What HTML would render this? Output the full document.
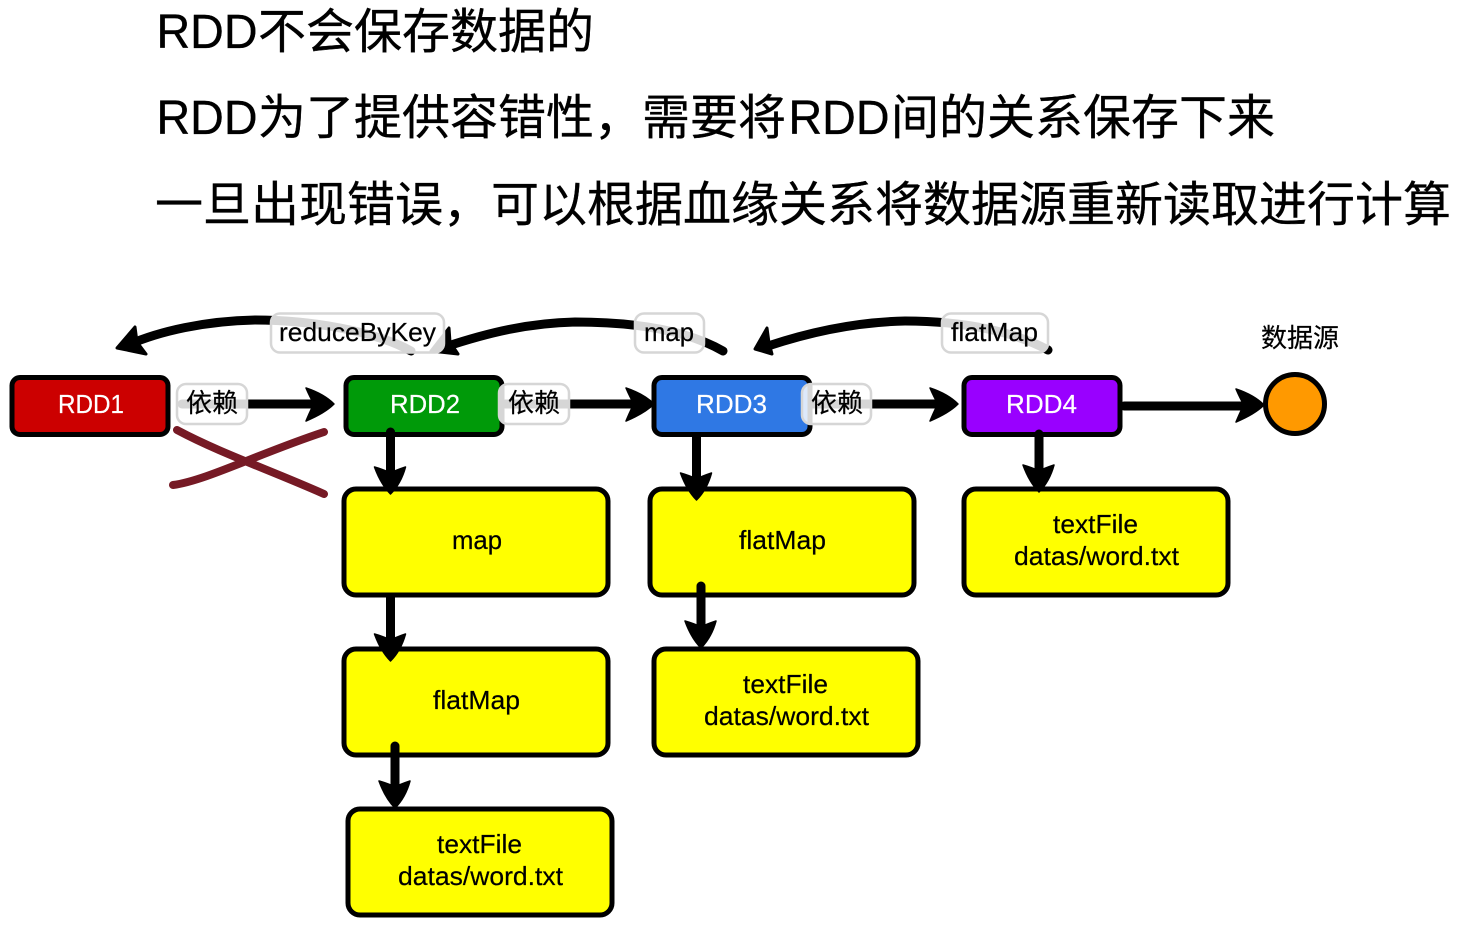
<!DOCTYPE html>
<html><head><meta charset="utf-8"><style>
html,body{margin:0;padding:0;background:#fff}
svg{display:block}
text{font-family:"Liberation Sans","Noto Sans CJK SC",sans-serif;fill:#000}
.h{font-size:48px;stroke:#000;stroke-width:.35}
.l{font-size:26px;stroke:#000;stroke-width:.2}
.w{font-size:26px;fill:#fff;stroke:#fff;stroke-width:.2}
.lb{fill:#fff;fill-opacity:.84;stroke:#d6d6d6;stroke-width:2.5}
.box{stroke:#000;stroke-width:5}
.y{fill:#ff0}
.ln{fill:none;stroke:#000;stroke-width:9;stroke-linecap:round}
</style></head><body>
<svg width="1465" height="932" viewBox="0 0 1465 932" xmlns="http://www.w3.org/2000/svg">
<defs>
<path id="hr" d="M0 0C-7 -7 -16 -12 -28 -16C-25 -9 -23 -5 -20 0C-23 5 -25 10 -28 17C-16 12 -7 7 0 0Z" stroke="#000" stroke-width="1.5" stroke-linejoin="round"/>
<path id="hd" d="M0 0C-7 -7 -12 -16 -16 -27C-9 -25 -4 -23 0 -21C4 -23 9 -25 15 -27C12 -16 7 -7 0 0Z" stroke="#000" stroke-width="1.5" stroke-linejoin="round"/>
</defs>

<text class="h" x="156.500" y="48" textLength="101" lengthAdjust="spacingAndGlyphs">RDD</text>
<text class="h" x="258" y="48">不会保存数据的</text>
<text class="h" x="156.500" y="134" textLength="101" lengthAdjust="spacingAndGlyphs">RDD</text>
<text class="h" x="258" y="134">为了提供容错性，需要将</text>
<text class="h" x="788.500" y="134" textLength="101" lengthAdjust="spacingAndGlyphs">RDD</text>
<text class="h" x="891" y="134">间的关系保存下来</text>
<text class="h" x="155" y="221">一旦出现错误，可以根据血缘关系将数据源重新读取进行计算</text>

<!-- top curved arrows -->
<path class="ln" d="M411 351C375 331 310 320 255 320C205 321 160 331 128 345"/>
<path d="M117 348L135 327L137 342L146 354Z" stroke="#000" stroke-width="3" stroke-linejoin="round"/>
<path class="ln" d="M723 351C690 332 640 322 575 322C530 323 490 332 445 347"/>
<path d="M431 351L449 328L450 342L458 354Z" stroke="#000" stroke-width="3" stroke-linejoin="round"/>
<path class="ln" d="M1048 350C1015 332 965 321 905 321C855 322 810 332 768 346"/>
<path d="M755 349L767 328L769 343L772 354Z" stroke="#000" stroke-width="3" stroke-linejoin="round"/>

<!-- horizontal arrows -->
<path class="ln" d="M182 404H320"/><use href="#hr" transform="translate(334 404)"/>
<path class="ln" d="M505 404H640"/><use href="#hr" transform="translate(654 404)"/>
<path class="ln" d="M807 404H945"/><use href="#hr" transform="translate(958 404)"/>
<path class="ln" d="M1124 406H1250"/><use href="#hr" transform="translate(1264 405)"/>

<!-- cross -->
<path d="M177 430C220 453 270 470 324 494" fill="none" stroke="#761a25" stroke-width="8" stroke-linecap="round"/>
<path d="M173 485C205 481 260 453 324 432" fill="none" stroke="#761a25" stroke-width="8" stroke-linecap="round"/>

<!-- nodes -->
<rect class="box" x="12" y="377.500" width="156" height="57" rx="8" fill="#cc0000"/>
<rect class="box" x="346" y="377.500" width="156" height="57" rx="8" fill="#009a09"/>
<rect class="box" x="654" y="377.500" width="156" height="57" rx="8" fill="#2f78e4"/>
<rect class="box" x="964" y="377.500" width="156" height="57" rx="8" fill="#9900ff"/>
<circle cx="1295" cy="404" r="29.500" fill="#ff9900" stroke="#000" stroke-width="5"/>

<rect class="box y" x="344" y="489" width="264" height="106" rx="12"/>
<rect class="box y" x="650" y="489" width="264" height="106" rx="12"/>
<rect class="box y" x="964" y="489" width="264" height="106" rx="12"/>
<rect class="box y" x="344" y="649" width="264" height="106" rx="12"/>
<rect class="box y" x="654" y="649" width="264" height="106" rx="12"/>
<rect class="box y" x="348" y="809" width="264" height="106" rx="12"/>

<!-- down arrows -->
<path class="ln" d="M390.500 432V478"/><use href="#hd" transform="translate(390.500 494)"/>
<path class="ln" d="M696.500 437V485"/><use href="#hd" transform="translate(696.500 500)"/>
<path class="ln" d="M1039 434V477"/><use href="#hd" transform="translate(1039 492)"/>
<path class="ln" d="M390.500 597V645"/><use href="#hd" transform="translate(390.500 661)"/>
<path class="ln" d="M701 586V632"/><use href="#hd" transform="translate(701 648)"/>
<path class="ln" d="M395 746V792"/><use href="#hd" transform="translate(395 808)"/>

<!-- edge labels -->
<rect class="lb" x="271" y="313.500" width="173" height="39" rx="9"/>
<rect class="lb" x="635" y="313.500" width="69" height="39" rx="9"/>
<rect class="lb" x="942" y="313.500" width="106" height="39" rx="9"/>
<rect class="lb" x="177" y="384" width="70" height="40" rx="9"/>
<rect class="lb" x="499" y="384" width="70" height="40" rx="9"/>
<rect class="lb" x="802" y="384" width="69" height="40" rx="9"/>

<text class="l" x="279" y="341" textLength="157" lengthAdjust="spacingAndGlyphs">reduceByKey</text>
<text class="l" x="644" y="341" textLength="50" lengthAdjust="spacingAndGlyphs">map</text>
<text class="l" x="951" y="341" textLength="87" lengthAdjust="spacingAndGlyphs">flatMap</text>
<text class="l" x="186" y="412">依赖</text>
<text class="l" x="508" y="412">依赖</text>
<text class="l" x="811" y="412">依赖</text>
<text class="l" x="1261" y="347">数据源</text>

<text class="w" x="58" y="413" textLength="66" lengthAdjust="spacingAndGlyphs">RDD1</text>
<text class="w" x="390" y="413" textLength="70" lengthAdjust="spacingAndGlyphs">RDD2</text>
<text class="w" x="696" y="413" textLength="71" lengthAdjust="spacingAndGlyphs">RDD3</text>
<text class="w" x="1006" y="413" textLength="71" lengthAdjust="spacingAndGlyphs">RDD4</text>

<text class="l" x="452" y="549" textLength="50" lengthAdjust="spacingAndGlyphs">map</text>
<text class="l" x="739" y="549" textLength="87" lengthAdjust="spacingAndGlyphs">flatMap</text>
<text class="l" x="1053" y="533" textLength="85" lengthAdjust="spacingAndGlyphs">textFile</text>
<text class="l" x="1014" y="565" textLength="165" lengthAdjust="spacingAndGlyphs">datas/word.txt</text>
<text class="l" x="433" y="709" textLength="87" lengthAdjust="spacingAndGlyphs">flatMap</text>
<text class="l" x="743" y="693" textLength="85" lengthAdjust="spacingAndGlyphs">textFile</text>
<text class="l" x="704" y="725" textLength="165" lengthAdjust="spacingAndGlyphs">datas/word.txt</text>
<text class="l" x="437" y="853" textLength="85" lengthAdjust="spacingAndGlyphs">textFile</text>
<text class="l" x="398" y="885" textLength="165" lengthAdjust="spacingAndGlyphs">datas/word.txt</text>
</svg>
</body></html>
